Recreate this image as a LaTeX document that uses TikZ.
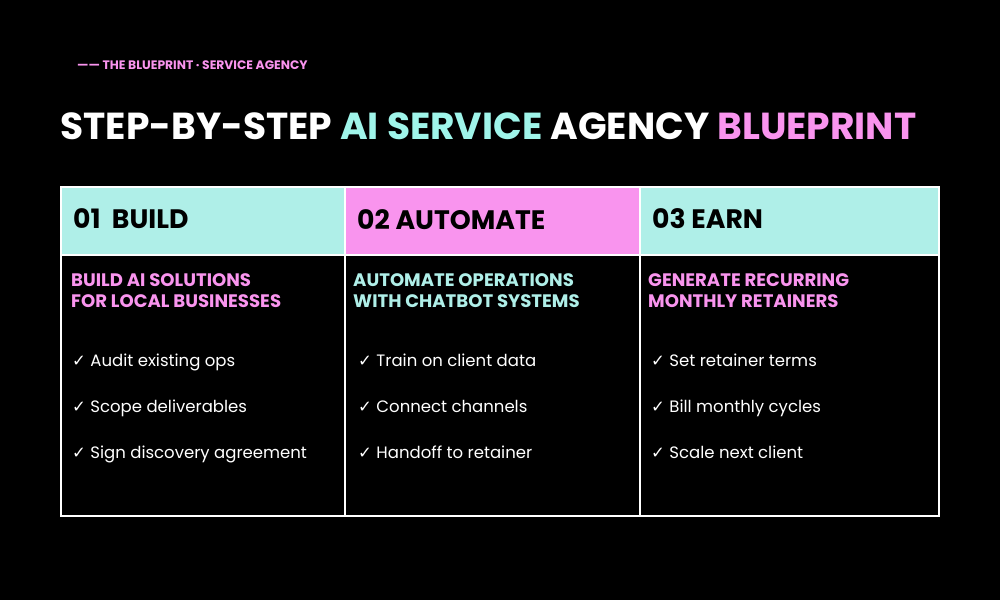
\documentclass[tikz,border=0pt]{standalone}
\usepackage{fontspec}
\setmainfont{Poppins}
\newfontfamily\symfont{DejaVu Sans}
\definecolor{bpcyan}{HTML}{AFEFE8}
\definecolor{bppink}{HTML}{F994EE}
\definecolor{bptitlecyan}{HTML}{9FF5EA}
\newcommand{\tick}{{\symfont\char"2713}}
\tikzset{
  cell/.style={draw=white, line width=1.2pt},
  headtxt/.style={anchor=base west, font=\bfseries\fontsize{15.2}{17}\selectfont, text=black},
  subtxt/.style={anchor=north west, align=left, font=\bfseries\fontsize{10.3}{12}\selectfont},
  itemtxt/.style={anchor=base west, text=white, font=\fontsize{9.4}{11}\selectfont}
}
\begin{document}
\begin{tikzpicture}[x=0.02cm, y=-0.02cm]
  \fill[black] (0,0) rectangle (1000,600);
  \useasboundingbox (0,0) rectangle (1000,600);
  % top label and title
  \node[anchor=west, text=bppink, font=\bfseries\fontsize{7}{8}\selectfont] (kicker) at (71,65) {—— THE BLUEPRINT · SERVICE AGENCY};
  \node[anchor=west, text=white, font=\bfseries\fontsize{21.4}{26}\selectfont, inner sep=0pt] (title) at (60,126)
    {STEP-BY-STEP \textcolor{bptitlecyan}{AI SERVICE} AGENCY \textcolor{bppink}{BLUEPRINT}};
  % table
  \fill[bpcyan] (61,187) rectangle (345,255);
  \fill[bppink] (345,187) rectangle (640,255);
  \fill[bpcyan] (640,187) rectangle (939,255);
  \draw[cell] (61,187) rectangle (939,516);
  \draw[cell] (61,255) -- (939,255);
  \draw[cell] (345,187) -- (345,516);
  \draw[cell] (640,187) -- (640,516);
  % headers
  \node[headtxt] (hbuild) at (67,228) {01\ \ BUILD};
  \node[headtxt] (hauto) at (351,229) {02 AUTOMATE};
  \node[headtxt] (hearn) at (646,228) {03 EARN};
  % subtitles
  \node[subtxt, text=bppink] (sbuild) at (65,267) {BUILD AI SOLUTIONS\\FOR LOCAL BUSINESSES};
  \node[subtxt, text=bpcyan] (sauto) at (347,267) {AUTOMATE OPERATIONS\\WITH CHATBOT SYSTEMS};
  \node[subtxt, text=bppink] (searn) at (642,267) {GENERATE RECURRING\\MONTHLY RETAINERS};
  % checklist items
  \foreach \x/\col/\a/\b/\c in {
      66/build/Audit existing ops/Scope deliverables/Sign discovery agreement,
      352/auto/Train on client data/Connect channels/Handoff to retainer,
      645/earn/Set retainer terms/Bill monthly cycles/Scale next client} {
    \node[itemtxt] (\col-1) at (\x,366) {\tick\ \a};
    \node[itemtxt] (\col-2) at (\x,412) {\tick\ \b};
    \node[itemtxt] (\col-3) at (\x,458) {\tick\ \c};
  }
\end{tikzpicture}
\end{document}
